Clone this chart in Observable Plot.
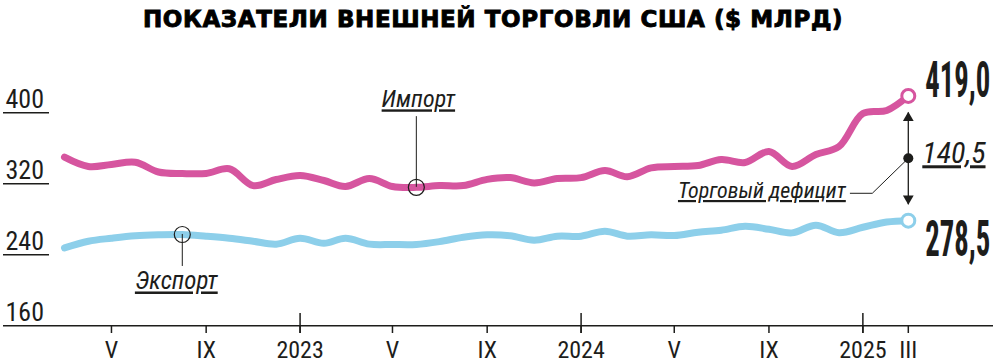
<!DOCTYPE html>
<html><head><meta charset="utf-8">
<script src="https://cdn.jsdelivr.net/npm/d3@7"></script>
<script src="https://cdn.jsdelivr.net/npm/@observablehq/plot@0.6"></script>
<style>
body{margin:0;background:#fff;}
#title{height:40px;box-sizing:border-box;padding-top:8px;padding-left:143px;font:bold 23px/23px "DejaVu Sans",sans-serif;letter-spacing:0.6px;-webkit-text-stroke:0.9px #000;color:#000;white-space:nowrap;}
g[aria-description="note"] text{text-decoration:underline;text-decoration-thickness:1.3px;text-underline-offset:3px;}
</style></head><body>
<div id="title">ПОКАЗАТЕЛИ ВНЕШНЕЙ ТОРГОВЛИ США ($ МЛРД)</div>
<div id="chart"></div>
<script>
// ---- data ----
const months = ["2022-03","2022-04","2022-05","2022-06","2022-07","2022-08","2022-09","2022-10","2022-11","2022-12",
  "2023-01","2023-02","2023-03","2023-04","2023-05","2023-06","2023-07","2023-08","2023-09","2023-10","2023-11","2023-12",
  "2024-01","2024-02","2024-03","2024-04","2024-05","2024-06","2024-07","2024-08","2024-09","2024-10","2024-11","2024-12",
  "2025-01","2025-02","2025-03"];
const importValues = [350,339.5,341.8,344.3,333.3,331.6,331.6,336.9,318,324.8,
  329.4,323.7,317,326,317,316,318,318,325,327,321,326,
  327,335,328,338,339.5,340.6,347.4,344,356.4,339.5,353,362,
  399.2,402.6,419.0];
const exportValues = [247.8,255.3,258.7,261.5,262.6,262.9,261,258.7,255.3,252,
  258.7,253,258.7,252,251.6,251.6,254.8,259.8,262.6,261.5,256.4,261,
  261,266.6,261,262.6,261.7,265.5,267.7,272.2,268.8,264.7,273.4,264.9,
  271,277,278.5];
const xTickMonths = ["2022-05","2022-09","2023-01","2023-05","2023-09","2024-01","2024-05","2024-09","2025-01","2025-03"];
const xTickLabels = ["V","IX","2023","V","IX","2024","V","IX","2025","III"];
const yearTickMonths = ["2023-01","2024-01","2025-01"];
const yTicks = [160, 240, 320, 400];
const importLabel = "Импорт";
const exportLabel = "Экспорт";
const deficitLabel = "Торговый дефицит";
const importNoteMonth = "2023-06";
const exportNoteMonth = "2022-08";

// ---- build ----
const parse = d3.utcParse("%Y-%m");
const data = months.map((m, i) => ({date: parse(m), imp: importValues[i], exp: exportValues[i]}));
const last = data[data.length - 1];
const impNote = data.find(d => +d.date === +parse(importNoteMonth));
const expNote = data.find(d => +d.date === +parse(exportNoteMonth));
const mid = d => (d.imp + d.exp) / 2;
const fmt = v => d3.format(".1f")(v).replace(".", ",");
const tickLabelMap = new Map(xTickMonths.map((m, i) => [+parse(m), xTickLabels[i]]));

const PINK = "#d6559f", BLUE = "#8dcfea", INK = "#1d1d1b";
const FONT = "'Liberation Sans Narrow','Roboto Condensed','DejaVu Sans Condensed',Roboto,sans-serif";
const leaderShape = {draw(ctx) { ctx.moveTo(0, 0); ctx.lineTo(-36, 35); ctx.lineTo(-58, 35); }};

const plot = Plot.plot({
  width: 1000, height: 323,
  marginLeft: 49, marginRight: 7, marginTop: 0, marginBottom: 38,
  style: {fontFamily: FONT, background: "#fff", color: INK, overflow: "visible"},
  x: {type: "utc", domain: [data[0].date, last.date], range: [64, 907.8]},
  y: {domain: [160, 400], range: [285.3, 72.3]},
  marks: [
    Plot.ruleY([yTicks[0]], {stroke: INK, strokeWidth: 1.5}),
    Plot.axisY({ticks: yTicks, tickSize: 46, tickFormat: () => "", stroke: INK, strokeWidth: 1.5, label: null}),
    Plot.axisY({ticks: yTicks, tickSize: 0, tickPadding: 0, textAnchor: "start", lineAnchor: "bottom", dx: -44, dy: -5, fontSize: 26, fill: INK, label: null}),
    Plot.axisX({ticks: xTickMonths.map(parse), tickSize: 8, tickPadding: 7, tickFormat: d => tickLabelMap.get(+d), fontSize: 24, stroke: INK, strokeWidth: 1.5, fill: INK, label: null}),
    Plot.axisX({ticks: yearTickMonths.map(parse), tickSize: 20, dy: -12, tickFormat: () => "", stroke: INK, strokeWidth: 1.5, label: null}),
    Plot.line(data, {x: "date", y: "imp", stroke: PINK, strokeWidth: 7, curve: "catmull-rom", strokeLinecap: "round"}),
    Plot.line(data, {x: "date", y: "exp", stroke: BLUE, strokeWidth: 7, curve: "catmull-rom", strokeLinecap: "round"}),
    // series notes
    Plot.ruleX([impNote], {x: "date", y1: "imp", y2: "imp", insetTop: -70.7, stroke: INK, strokeWidth: 1}),
    Plot.ruleX([expNote], {x: "date", y1: "exp", y2: "exp", insetBottom: -32, stroke: INK, strokeWidth: 1}),
    Plot.dot([impNote], {x: "date", y: "imp", r: 8, stroke: INK, strokeWidth: 1.2, fill: "none"}),
    Plot.dot([expNote], {x: "date", y: "exp", r: 8, stroke: INK, strokeWidth: 1.2, fill: "none"}),
    Plot.text([impNote], {x: "date", y: "imp", text: () => importLabel, dx: 2, dy: -80, lineAnchor: "bottom", fontStyle: "italic", fontSize: 24, fill: INK, ariaDescription: "note"}),
    Plot.text([expNote], {x: "date", y: "exp", text: () => exportLabel, dx: -6, dy: 55, lineAnchor: "bottom", fontStyle: "italic", fontSize: 25, fill: INK, ariaDescription: "note"}),
    // deficit
    Plot.ruleX([last], {x: "date", y1: "imp", y2: "exp", insetTop: 17, insetBottom: 16, stroke: INK, strokeWidth: 1.3}),
    Plot.dot([last], {x: "date", y: "imp", dy: 22, symbol: "triangle", r: 4, fill: INK, stroke: "none"}),
    Plot.dot([last], {x: "date", y: "exp", dy: -22, symbol: "triangle", rotate: 180, r: 4, fill: INK, stroke: "none"}),
    Plot.vector([last], {x: "date", y: mid, length: 1, anchor: "start", shape: leaderShape, stroke: INK, strokeWidth: 1}),
    Plot.dot([last], {x: "date", y: mid, r: 5, fill: INK, stroke: "none"}),
    Plot.text([last], {x: "date", y: mid, text: d => fmt(d.imp - d.exp), dx: 14, dy: 5, textAnchor: "start", lineAnchor: "bottom", fontStyle: "italic", fontSize: 30, fill: INK, ariaDescription: "note"}),
    Plot.text([last], {x: "date", y: mid, text: () => deficitLabel, dx: -62.5, dy: 39.7, textAnchor: "end", lineAnchor: "bottom", fontStyle: "italic", fontSize: 22, fill: INK, ariaDescription: "note"}),
    // end points
    Plot.dot([last], {x: "date", y: "imp", r: 6.5, fill: "#fff", stroke: PINK, strokeWidth: 3}),
    Plot.dot([last], {x: "date", y: "exp", r: 6.5, fill: "#fff", stroke: BLUE, strokeWidth: 3}),
    Plot.text([last], {x: "date", y: "imp", text: d => fmt(d.imp), dx: 17, dy: 1, textAnchor: "start", lineAnchor: "bottom", fontSize: 50, fontWeight: "bold", fill: INK, ariaDescription: "endval"}),
    Plot.text([last], {x: "date", y: "exp", text: d => fmt(d.exp), dx: 17, dy: 35, textAnchor: "start", lineAnchor: "bottom", fontSize: 50, fontWeight: "bold", fill: INK, ariaDescription: "endval"})
  ]
});
document.getElementById("chart").append(plot);
// condense the large end values horizontally to the narrow display width
d3.select(plot).selectAll('g[aria-description="endval"] text').each(function() {
  const w = this.getComputedTextLength();
  const sx = w > 0 ? 65 / w : 1;
  const t = this.getAttribute("transform") || "";
  this.setAttribute("transform", `${t} scale(${sx},1)`);
});
</script>
</body></html>
